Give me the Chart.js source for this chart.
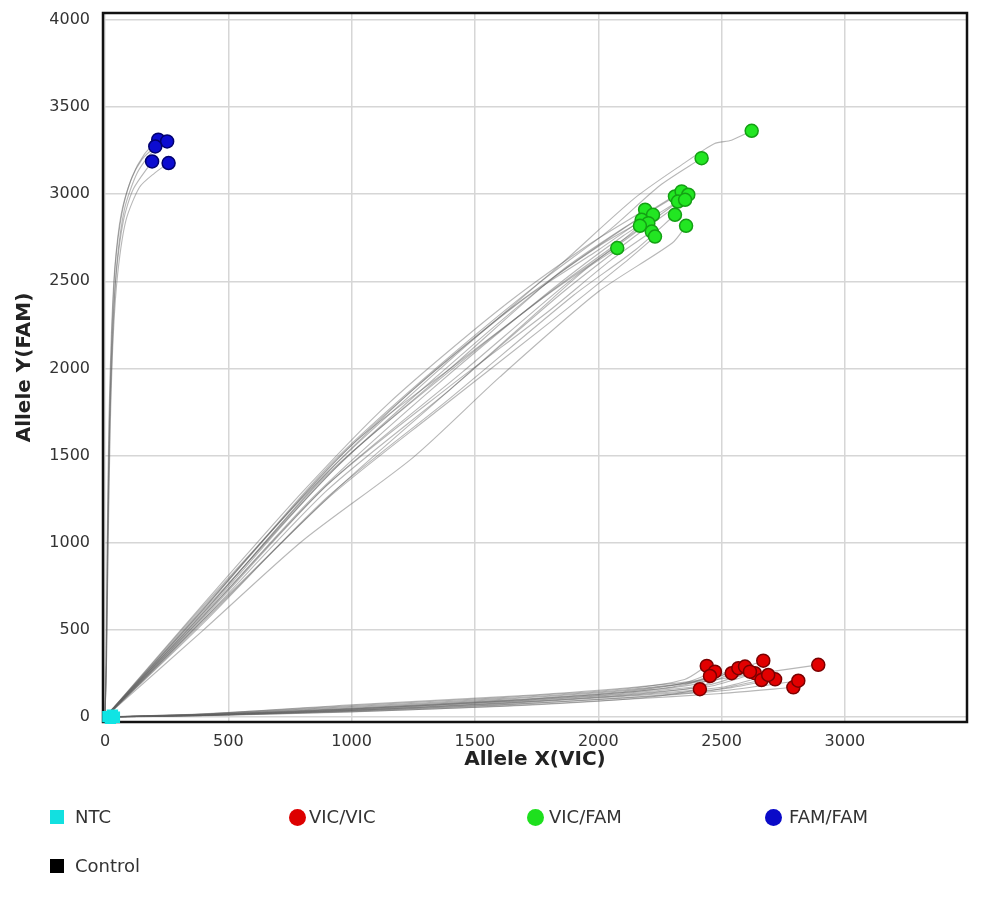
<!DOCTYPE html>
<html><head><meta charset="utf-8">
<script src="https://cdn.jsdelivr.net/npm/chart.js@4.4.0/dist/chart.umd.min.js"></script>
<style>
html,body{margin:0;padding:0;background:#fff;}
#wrap{position:relative;width:991px;height:908px;overflow:hidden;}
canvas{position:absolute;left:0;top:0;}
.lt{position:absolute;font-family:"DejaVu Sans";font-size:18px;color:#333;line-height:20px;white-space:nowrap;}
.mk{position:absolute;}
</style></head><body>
<div id="wrap"><canvas id="c" width="991" height="908"></canvas><div id="legend"></div></div>
<script>
// ---- data ----
const xTicks = [0, 500, 1000, 1500, 2000, 2500, 3000];
const yTicks = [0, 500, 1000, 1500, 2000, 2500, 3000, 3500, 4000];
const legendLabels = ['NTC', 'VIC/VIC', 'VIC/FAM', 'FAM/FAM', 'Control'];

const ntcPoints = [[12, 2], [30, 10], [22, -8], [38, -2]];
const controlPoints = [];
const famfamPoints = [[216, 3313], [252, 3303], [204, 3274], [191, 3188], [258, 3179]];
const vicfamPoints = [
  [2622, 3364], [2419, 3207], [2311, 2987], [2338, 3016], [2365, 2997], [2323, 2958],
  [2352, 2968], [2311, 2882], [2356, 2819], [2190, 2911], [2222, 2882], [2176, 2853],
  [2203, 2834], [2169, 2819], [2217, 2786], [2230, 2757], [2077, 2691]
];
const vicvicPoints = [
  [2892, 299], [2440, 293], [2473, 260], [2453, 235], [2412, 159], [2541, 251],
  [2568, 280], [2595, 289], [2669, 323], [2635, 251], [2662, 212], [2717, 216],
  [2791, 170], [2811, 208], [2615, 260], [2689, 241]
];

const famfamTraces = [
  [[0,0],[5,300],[10,1000],[18,1700],[28,2200],[42,2600],[70,2900],[110,3100],[160,3230],[216,3313]],
  [[0,0],[6,300],[12,1000],[20,1700],[32,2200],[48,2600],[80,2920],[130,3120],[190,3240],[252,3303]],
  [[0,0],[4,300],[9,1000],[16,1700],[26,2200],[40,2580],[65,2880],[105,3080],[150,3200],[204,3274]],
  [[0,0],[5,300],[11,1000],[19,1700],[30,2200],[46,2550],[75,2850],[115,3030],[191,3188]],
  [[0,0],[6,300],[13,1000],[22,1700],[34,2200],[52,2550],[85,2850],[140,3040],[200,3120],[258,3179]]
];
const vicfamTraces = [
  [[0,0],[40,55],[400,600],[900,1400],[1400,2050],[1850,2600],[2150,2980],[2350,3180],[2470,3290],[2540,3310],[2622,3364]],
  [[0,0],[40,60],[400,620],[900,1430],[1300,1950],[1750,2480],[2050,2800],[2250,3050],[2419,3207]],
  [[0,0],[40,60],[400,590],[900,1380],[1350,1960],[1800,2500],[2100,2800],[2311,2987]],
  [[0,0],[40,58],[400,610],[950,1450],[1400,2000],[1850,2560],[2150,2850],[2338,3016]],
  [[0,0],[40,55],[400,570],[900,1330],[1450,1980],[1900,2520],[2200,2830],[2365,2997]],
  [[0,0],[40,55],[400,580],[850,1270],[1300,1850],[1800,2440],[2100,2760],[2323,2958]],
  [[0,0],[40,52],[400,560],[900,1300],[1400,1880],[1850,2430],[2150,2760],[2352,2968]],
  [[0,0],[40,50],[400,540],[900,1260],[1400,1830],[1900,2420],[2150,2680],[2311,2882]],
  [[0,0],[40,48],[400,500],[800,1010],[1250,1490],[1600,1950],[2000,2440],[2300,2720],[2356,2819]],
  [[0,0],[40,62],[400,650],[800,1290],[1150,1800],[1600,2340],[1950,2700],[2190,2911]],
  [[0,0],[40,60],[400,640],[850,1330],[1250,1880],[1650,2350],[2000,2700],[2222,2882]],
  [[0,0],[40,58],[400,620],[900,1420],[1300,1940],[1700,2400],[2000,2680],[2176,2853]],
  [[0,0],[40,56],[400,600],[900,1390],[1350,1930],[1750,2380],[2050,2690],[2203,2834]],
  [[0,0],[40,60],[400,630],[1000,1560],[1400,2000],[1800,2430],[2050,2680],[2169,2819]],
  [[0,0],[40,54],[400,580],[900,1330],[1400,1900],[1800,2330],[2050,2620],[2217,2786]],
  [[0,0],[40,50],[400,550],[900,1250],[1350,1760],[1800,2260],[2100,2600],[2230,2757]],
  [[0,0],[40,52],[400,560],[950,1320],[1400,1880],[1750,2320],[1950,2570],[2077,2691]]
];
const vicvicTraces = [
  [[0,0],[400,15],[1000,55],[1600,100],[2100,150],[2400,200],[2650,250],[2892,299]],
  [[0,0],[400,18],[1000,65],[1600,110],[2100,160],[2350,215],[2440,293]],
  [[0,0],[400,14],[1000,50],[1600,95],[2100,145],[2350,195],[2473,260]],
  [[0,0],[400,12],[1000,45],[1600,90],[2100,140],[2350,185],[2453,235]],
  [[0,0],[400,8],[1000,30],[1600,60],[2100,100],[2300,130],[2412,159]],
  [[0,0],[400,10],[1000,40],[1600,80],[2100,125],[2400,170],[2541,251]],
  [[0,0],[400,16],[1000,60],[1600,105],[2100,155],[2400,205],[2568,280]],
  [[0,0],[400,13],[1000,48],[1600,92],[2100,140],[2400,190],[2595,289]],
  [[0,0],[400,17],[1000,70],[1600,115],[2100,165],[2450,220],[2669,323]],
  [[0,0],[400,11],[1000,42],[1600,85],[2100,130],[2450,175],[2635,251]],
  [[0,0],[400,9],[1000,35],[1600,70],[2100,110],[2450,150],[2662,212]],
  [[0,0],[400,10],[1000,38],[1600,75],[2100,118],[2500,160],[2717,216]],
  [[0,0],[400,7],[1000,28],[1600,62],[2100,100],[2500,135],[2791,170]],
  [[0,0],[400,8],[1000,33],[1600,68],[2100,108],[2500,150],[2811,208]],
  [[0,0],[400,12],[1000,46],[1600,88],[2100,135],[2450,185],[2615,260]],
  [[0,0],[400,9],[1000,37],[1600,78],[2100,122],[2500,170],[2689,241]]
];

// ---- styles ----
const legendColors = ['#12e0e0', '#dd0000', '#1ee01e', '#0a0ac8', '#000000'];
const legendShapes = ['square', 'circle', 'circle', 'circle', 'square'];
const legendMarkX = [57, 297, 535, 773, 57];
const legendTextX = [75, 309, 549, 789, 75];
const legendRowY = [817, 817, 817, 817, 866];

const toXY = arr => arr.map(([x, y]) => ({x, y}));
const traceDs = tr => ({
  data: toXY(tr), showLine: true, pointRadius: 0, pointHoverRadius: 0,
  borderColor: 'rgba(95,95,95,0.45)', borderWidth: 1.1, tension: 0.25, order: 5
});
const pointDs = (pts, fill, edge, style, r) => ({
  data: toXY(pts), showLine: false, pointRadius: r, pointStyle: style,
  backgroundColor: fill, borderColor: edge, pointBorderWidth: 1.5, order: 1, clip: 12
});

const datasets = [
  ...famfamTraces.map(traceDs),
  ...vicfamTraces.map(traceDs),
  ...vicvicTraces.map(traceDs),
  pointDs(vicvicPoints, '#e20000', '#7a0000', 'circle', 6.5),
  pointDs(vicfamPoints, '#22e622', '#14a014', 'circle', 6.5),
  pointDs(famfamPoints, '#0c0cd0', '#000070', 'circle', 6.5),
  pointDs(ntcPoints, '#10e4e4', '#10e4e4', 'rect', 7),
  pointDs(controlPoints, '#000', '#000', 'rect', 7)
];

const frame = {
  id: 'frame',
  beforeDatasetsDraw(chart) {
    const {ctx, chartArea: a} = chart;
    ctx.save();
    ctx.strokeStyle = '#111';
    ctx.lineWidth = 2.5;
    ctx.strokeRect(a.left, a.top, a.right - a.left, a.bottom - a.top);
    ctx.restore();
  }
};

new Chart(document.getElementById('c'), {
  type: 'scatter',
  data: {datasets},
  plugins: [frame],
  options: {
    responsive: false, animation: false,
    layout: {padding: {top: 13, right: 24, bottom: 128, left: 0}},
    plugins: {legend: {display: false}, tooltip: {enabled: false}},
    scales: {
      x: {
        type: 'linear', min: -8, max: 3495,
        afterBuildTicks: s => { s.ticks = xTicks.map(v => ({value: v})); },
        afterFit: s => { s.height = 58; s.paddingLeft = 0; s.paddingRight = 0; },
        grid: {color: '#d6d6d6', lineWidth: 1.5, drawTicks: false},
        border: {display: false},
        ticks: {padding: 10, color: '#333', font: {family: 'DejaVu Sans', size: 16}, callback: v => String(v), maxRotation: 0},
        title: {display: true, text: 'Allele X(VIC)', color: '#222', font: {family: 'DejaVu Sans', size: 20, weight: 'bold'}, padding: {top: 0, bottom: 8}}
      },
      y: {
        type: 'linear', min: -29, max: 4040,
        afterBuildTicks: s => { s.ticks = yTicks.map(v => ({value: v})); },
        afterFit: s => { s.width = 103; s.paddingTop = 0; s.paddingBottom = 0; },
        grid: {color: '#d6d6d6', lineWidth: 1.5, drawTicks: false},
        border: {display: false},
        ticks: {padding: 13, color: '#333', font: {family: 'DejaVu Sans', size: 16}, callback: v => String(v)},
        title: {display: true, text: 'Allele Y(FAM)', color: '#222', font: {family: 'DejaVu Sans', size: 20, weight: 'bold'}, padding: {top: 13, bottom: 0}}
      }
    }
  }
});

// ---- legend ----
const lg = document.getElementById('legend');
legendLabels.forEach((lab, i) => {
  const m = document.createElement('div');
  m.className = 'mk';
  const sz = legendShapes[i] === 'circle' ? 17 : 14;
  m.style.width = sz + 'px'; m.style.height = sz + 'px';
  m.style.left = (legendMarkX[i] - sz / 2) + 'px';
  m.style.top = (legendRowY[i] - sz / 2) + 'px';
  m.style.background = legendColors[i];
  if (legendShapes[i] === 'circle') m.style.borderRadius = '50%';
  lg.appendChild(m);
  const t = document.createElement('div');
  t.className = 'lt';
  t.textContent = lab;
  t.style.left = legendTextX[i] + 'px';
  t.style.top = (legendRowY[i] - 10) + 'px';
  lg.appendChild(t);
});
</script>
</body></html>
